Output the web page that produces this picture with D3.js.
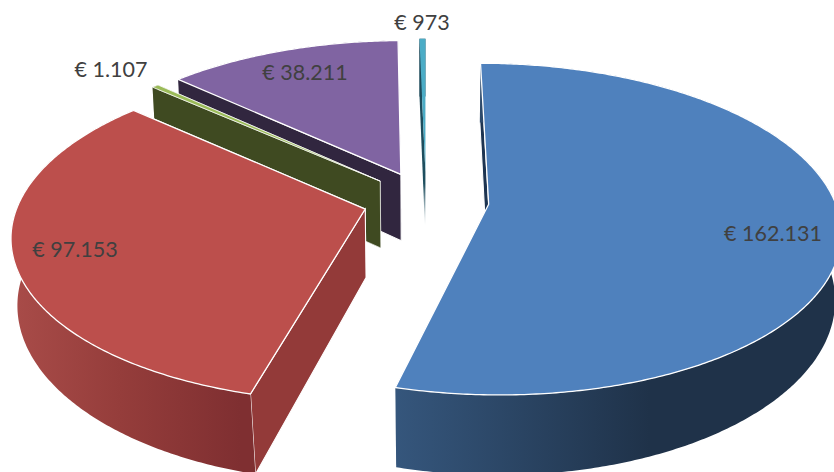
<!DOCTYPE html>
<html>
<head>
<meta charset="utf-8">
<script src="https://cdnjs.cloudflare.com/ajax/libs/d3/7.8.5/d3.min.js"></script>
<style>
  html, body { margin: 0; padding: 0; background: #fff; }
  svg { display: block; }
  text { font-family: Lato, sans-serif; font-size: 21.5px; fill: #404040; }
</style>
</head>
<body>
<svg id="chart"></svg>
<script>
const categories = ['A', 'B', 'C', 'D', 'E'];
const values = [162131, 97153, 1107, 38211, 973];

const width = 834;
const height = 472;

// look of each slice, in the same order as categories
const topColors = ['#4f81bd', '#bc4f4c', '#9bbb59', '#8064a2', '#4bacc6'];
const wallColors = ['#1d3451', '#933a39', '#3f4a21', '#31263f', '#1d4a5a'];
const rimStops = [
  [[396, '#35567c'], [650, '#1f3249'], [834, '#1f3249']],
  [[10, '#a94c49'], [120, '#953d3b'], [240, '#7f2f31']],
  [[0, '#3f4a21'], [834, '#3f4a21']],
  [[0, '#31263f'], [834, '#31263f']],
  [[0, '#1d4a5a'], [834, '#1d4a5a']]
];
const edgeWidths = [1.3, 1.3, 0.8, 1.3, 0];
const labelPos = [[773, 233], [75, 249], [111, 69], [305, 72], [422, 22]];

// camera of the tilted disc
const cx = 426, cy = 200.5;
const radiusX = 346, radiusY = 161;
const persp = 0.149;      // back of the disc is smaller than the front
const explode = 0.182;    // pulled out, as part of the radius
const depth = 68;

const x = d3.scaleLinear().domain([-1, 1]).range([cx - radiusX, cx + radiusX]);
const y = d3.scaleLinear().domain([-1, 1]).range([cy + radiusY, cy - radiusY]);

// verticals lean in towards the bottom, more so close to the viewer
const lean = d3.scaleLinear().domain([0.85, 1]).range([0.028, 0.012]).clamp(true);

const svg = d3.select('#chart').attr('width', width).attr('height', height);
const defs = svg.append('defs');

const pie = d3.pie().sort(null).startAngle(0).endAngle(2 * Math.PI);
const slices = pie(values);

const euro = d3.formatLocale({ decimal: ',', thousands: '.', grouping: [3], currency: ['€ ', ''] }).format('$,.0f');

// disc coordinates (u to the right, v to the back) to screen
const project = (u, v) => {
  const w = 1 + persp * v;
  return { px: x(u / w), py: y(v / w), w };
};
const lower = p => [cx + (p.px - cx) * (1 - lean(p.w)), p.py + depth / p.w];
const upper = p => [p.px, p.py];

const line = d3.line();

const order = [4, 3, 2, 1, 0];   // back to front

order.forEach(i => {
  const s = slices[i];
  const mid = (s.startAngle + s.endAngle) / 2;
  const ou = explode * Math.sin(mid), ov = explode * Math.cos(mid);
  const onRim = a => project(ou + Math.sin(a), ov + Math.cos(a));
  const apex = project(ou, ov);

  const steps = Math.max(2, Math.ceil((s.endAngle - s.startAngle) / 0.01));
  const angles = d3.range(steps + 1).map(k => s.startAngle + (s.endAngle - s.startAngle) * k / steps);
  const rim = angles.map(onRim);

  const g = svg.append('g').attr('class', 'slice').attr('data-name', categories[i]);

  const gradId = 'rim' + i;
  const grad = defs.append('linearGradient').attr('id', gradId)
    .attr('gradientUnits', 'userSpaceOnUse')
    .attr('x1', 0).attr('x2', width).attr('y1', 0).attr('y2', 0);
  rimStops[i].forEach(st => {
    grad.append('stop').attr('offset', st[0] / width).attr('stop-color', st[1]);
  });

  const wallFill = i === 4 ? 'url(#fade)' : wallColors[i];
  if (i === 4) {
    const fade = defs.append('linearGradient').attr('id', 'fade')
      .attr('gradientUnits', 'userSpaceOnUse')
      .attr('x1', 0).attr('x2', 0).attr('y1', 60).attr('y2', 225);
    fade.append('stop').attr('offset', 0).attr('stop-color', wallColors[4]);
    fade.append('stop').attr('offset', 0.75).attr('stop-color', '#1f4f5f');
    fade.append('stop').attr('offset', 1).attr('stop-color', '#ffffff');
  }

  // the two cut faces, the far one first
  [rim[rim.length - 1], rim[0]].forEach(p => {
    g.append('path')
      .attr('d', line([upper(apex), upper(p), lower(p), lower(apex)]) + 'Z')
      .attr('fill', wallFill)
      .attr('stroke', '#fff')
      .attr('stroke-width', edgeWidths[i] * 0.8);
  });

  // outer wall
  g.append('path')
    .attr('d', line(rim.map(upper).concat(rim.map(lower).reverse())) + 'Z')
    .attr('fill', `url(#${gradId})`);

  // top face
  g.append('path')
    .attr('d', line([upper(apex)].concat(rim.map(upper))) + 'Z')
    .attr('fill', topColors[i])
    .attr('stroke', '#fff')
    .attr('stroke-width', edgeWidths[i])
    .attr('stroke-linejoin', 'round');
});

svg.append('g').selectAll('text')
  .data(values)
  .join('text')
  .attr('x', (d, i) => labelPos[i][0])
  .attr('y', (d, i) => labelPos[i][1])
  .attr('dy', '0.35em')
  .attr('text-anchor', 'middle')
  .text(d => euro(d));
</script>
</body>
</html>
